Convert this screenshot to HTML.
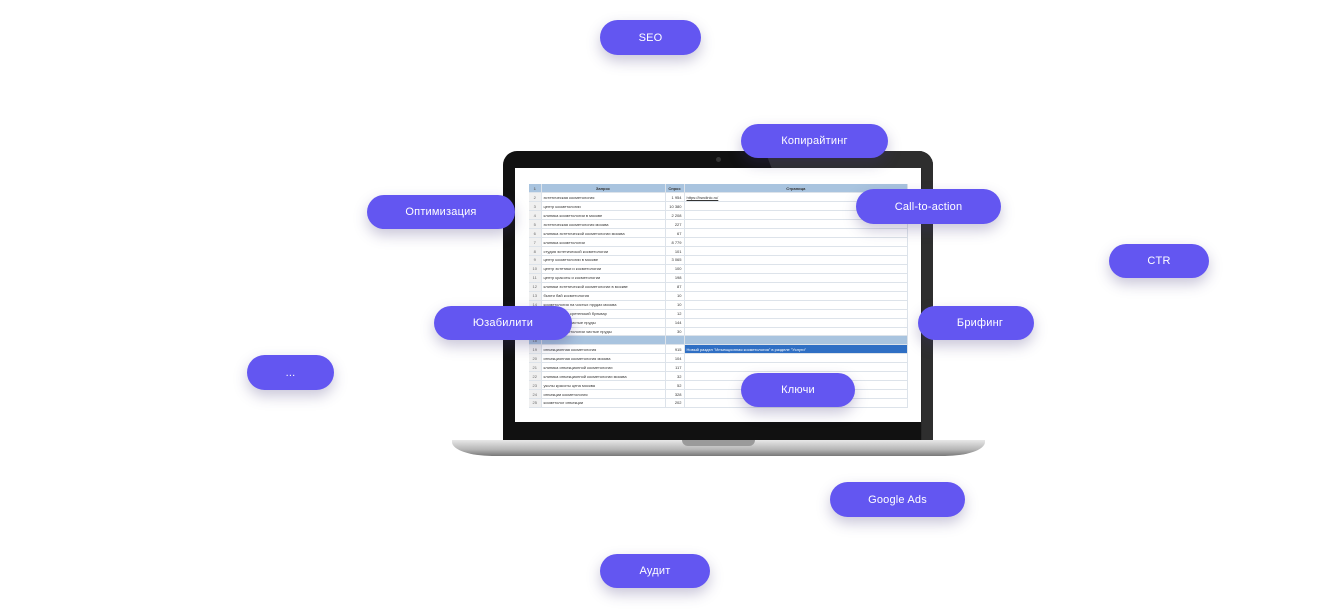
<!DOCTYPE html>
<html><head><meta charset="utf-8"><style>
*{margin:0;padding:0;box-sizing:border-box}
body{width:1340px;height:615px;background:#fff;position:relative;overflow:hidden;font-family:"Liberation Sans",sans-serif}
.pill{position:absolute;background:#6356f1;color:#fff;border-radius:18px;display:flex;align-items:center;justify-content:center;font-size:11px;letter-spacing:.2px;box-shadow:0 6px 14px rgba(60,50,120,.28);z-index:5}
.lap{position:absolute;left:503px;top:151px;width:430px;height:290px;background:#111;border-radius:14px 14px 0 0}
.glare{position:absolute;left:765px;top:151px;width:168px;height:290px;background:#2e2e2e;clip-path:polygon(0 0,100% 0,100% 100%,93% 100%,93% 6%,4% 6%);border-radius:0 14px 0 0}
.scr{position:absolute;left:515px;top:168px;width:406px;height:254px;background:#fff}
.base{position:absolute;left:452px;top:440px;width:533px;height:16px;background:linear-gradient(#e8e8e8,#b5b5b5 60%,#777);border-radius:0 0 40px 40px/0 0 14px 14px}
.notch{position:absolute;left:682px;top:440px;width:73px;height:6px;background:#9a9a9a;border-radius:0 0 6px 6px}
table{position:absolute;left:529px;top:184px;width:379px;border-collapse:collapse;font-size:4px;color:#333}
td{height:8.95px;border-bottom:1px solid #dde3ea;border-right:1px solid #dde3ea;padding:0 2px;white-space:nowrap;overflow:hidden}
td.n{width:12px;background:#f0f0f0;color:#666;text-align:center}
td.q{width:124px}td.f{width:19px;text-align:right}
tr.h td{background:#a9c4df;font-weight:bold;text-align:center}
tr.b td{background:#a9c4df}
tr.s td.p{background:#2f6fc4;color:#fff}
</style></head><body>
<div class="lap"></div><div class="glare"></div>
<div style="position:absolute;left:716px;top:157px;width:5px;height:5px;border-radius:50%;background:#333"></div>
<div class="scr"></div>
<table>
<tr class="h"><td class="n">1</td><td class="q">Запрос</td><td class="f">Спрос</td><td>Страница</td></tr>
<tr><td class="n">2</td><td class="q">эстетическая косметология</td><td class="f">1 954</td><td style="text-decoration:underline">https://bwclinic.ru/</td></tr>
<tr><td class="n">3</td><td class="q">центр косметологии</td><td class="f">10 380</td><td></td></tr>
<tr><td class="n">4</td><td class="q">клиника косметологии в москве</td><td class="f">2 208</td><td></td></tr>
<tr><td class="n">5</td><td class="q">эстетическая косметология москва</td><td class="f">227</td><td></td></tr>
<tr><td class="n">6</td><td class="q">клиника эстетической косметологии москва</td><td class="f">67</td><td></td></tr>
<tr><td class="n">7</td><td class="q">клиника косметологии</td><td class="f">8 779</td><td></td></tr>
<tr><td class="n">8</td><td class="q">студия эстетической косметологии</td><td class="f">101</td><td></td></tr>
<tr><td class="n">9</td><td class="q">центр косметологии в москве</td><td class="f">3 065</td><td></td></tr>
<tr><td class="n">10</td><td class="q">центр эстетики и косметологии</td><td class="f">100</td><td></td></tr>
<tr><td class="n">11</td><td class="q">центр красоты и косметологии</td><td class="f">198</td><td></td></tr>
<tr><td class="n">12</td><td class="q">клиники эстетической косметологии в москве</td><td class="f">87</td><td></td></tr>
<tr><td class="n">13</td><td class="q">бьюти бай косметология</td><td class="f">10</td><td></td></tr>
<tr><td class="n">14</td><td class="q">косметология на чистых прудах москва</td><td class="f">10</td><td></td></tr>
<tr><td class="n">15</td><td class="q">косметология сретенский бульвар</td><td class="f">12</td><td></td></tr>
<tr><td class="n">16</td><td class="q">косметология чистые пруды</td><td class="f">144</td><td></td></tr>
<tr><td class="n">17</td><td class="q">клиника косметологии чистые пруды</td><td class="f">30</td><td></td></tr>
<tr class="b"><td class="n">18</td><td class="q"></td><td class="f"></td><td></td></tr>
<tr class="s"><td class="n">19</td><td class="q">инъекционная косметология</td><td class="f">915</td><td class="p">Новый раздел "Инъекционная косметология" в разделе "Услуги"</td></tr>
<tr><td class="n">20</td><td class="q">инъекционная косметология москва</td><td class="f">104</td><td></td></tr>
<tr><td class="n">21</td><td class="q">клиника инъекционной косметологии</td><td class="f">117</td><td></td></tr>
<tr><td class="n">22</td><td class="q">клиника инъекционной косметологии москва</td><td class="f">32</td><td></td></tr>
<tr><td class="n">23</td><td class="q">уколы красоты цена москва</td><td class="f">52</td><td></td></tr>
<tr><td class="n">24</td><td class="q">инъекции косметология</td><td class="f">328</td><td></td></tr>
<tr><td class="n">25</td><td class="q">косметолог инъекции</td><td class="f">202</td><td></td></tr>
</table>
<div class="base"></div><div class="notch"></div>

<div class="pill" style="left:600px;top:20px;width:101px;height:35px">SEO</div>
<div class="pill" style="left:741px;top:124px;width:147px;height:34px">Копирайтинг</div>
<div class="pill" style="left:367px;top:195px;width:148px;height:34px">Оптимизация</div>
<div class="pill" style="left:856px;top:189px;width:145px;height:35px">Call-to-action</div>
<div class="pill" style="left:1109px;top:244px;width:100px;height:34px">CTR</div>
<div class="pill" style="left:434px;top:306px;width:138px;height:34px">Юзабилити</div>
<div class="pill" style="left:918px;top:306px;width:116px;height:34px;padding-left:8px">Брифинг</div>
<div class="pill" style="left:247px;top:355px;width:87px;height:35px">...</div>
<div class="pill" style="left:741px;top:373px;width:114px;height:34px">Ключи</div>
<div class="pill" style="left:830px;top:482px;width:135px;height:35px">Google Ads</div>
<div class="pill" style="left:600px;top:554px;width:110px;height:34px">Аудит</div>
</body></html>
